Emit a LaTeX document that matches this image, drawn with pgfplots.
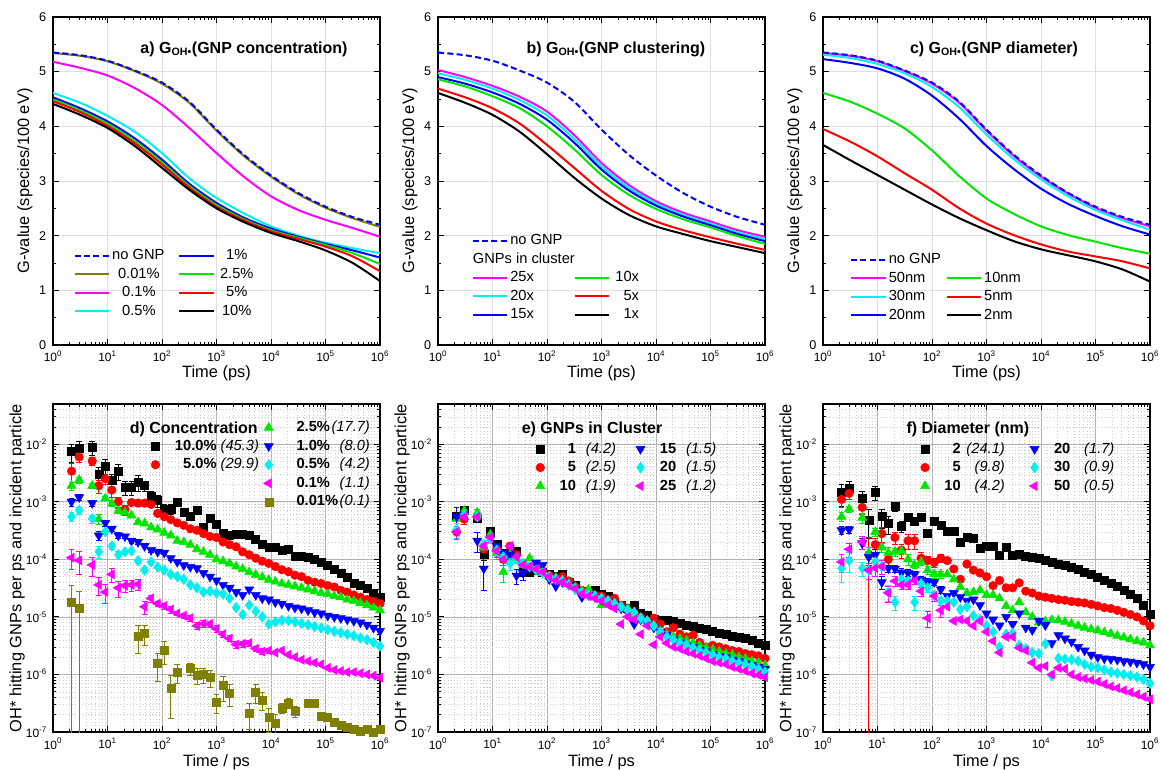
\documentclass[border=0pt]{standalone}
\usepackage{fontspec}
\setmainfont{Liberation Sans}
\usepackage{pgfplots}
\usepackage{pgfplotstable}
\pgfplotsset{compat=1.18}

\definecolor{cblue}{RGB}{0,0,255}
\definecolor{colive}{RGB}{128,128,0}
\definecolor{cmag}{RGB}{255,0,255}
\definecolor{ccyan}{RGB}{0,240,240}
\definecolor{cgreen}{RGB}{0,230,0}
\definecolor{cred}{RGB}{255,0,0}

% legend text helpers
\newcommand{\LL}[2]{\makebox[73pt][r]{\textbf{#1} \textit{#2}}}
\newcommand{\LR}[2]{\hspace*{16pt}\makebox[55pt]{\textbf{#1}\hfill\textit{#2}}}
\newcommand{\LE}[2]{\makebox[22pt][r]{\textbf{#1}}\makebox[30pt][r]{\textit{#2}}}
\newcommand{\LF}[2]{\makebox[22pt][r]{\textbf{#1}}\makebox[33pt][r]{\textit{#2}}}

\pgfplotsset{
  every axis/.append style={
    scale only axis, width=245.25pt, height=246pt,
    tick align=inside,
    axis line style={line width=0.8pt},
    tick style={black, line width=0.6pt},
    major tick length=4.5pt, minor tick length=2.5pt,
    tick label style={font=\fontsize{9}{10}\selectfont},
    xticklabel style={yshift=-1.2pt},
    label style={font=\fontsize{12.3}{14}\selectfont},
    legend cell align=left,
    legend columns=2,
    legend style={draw=none, fill=none, font=\fontsize{11}{13}\selectfont,
      nodes={inner sep=1.45pt, text height=8.5pt, text depth=2.5pt}},
  },
  log number format basis/.code 2 args={#1\textsuperscript{\pgfmathprintnumber[assume math mode=true]{#2}}},
  gnplw/.style={line width=1.5pt, smooth},
  gnpdsh/.style={line width=1.5pt, smooth, dash pattern=on 4.5pt off 2.5pt},
  gnpeb/.style={only marks,
    error bars/y dir=both, error bars/y explicit,
    error bars/error bar style={line width=0.5pt, solid},
    error bars/error mark options={rotate=90, mark size=2.2pt, line width=0.5pt}},
  sK/.style={mark=square*, mark size=3pt, color=black},
  sR/.style={mark=*, mark size=3.2pt, color=cred},
  sG/.style={mark=triangle*, mark size=3.9pt, color=cgreen},
  sB/.style={mark=triangle*, mark size=3.9pt, color=cblue, mark options={rotate=180}},
  sC/.style={mark=diamond*, mark size=3.9pt, color=ccyan},
  sM/.style={mark=triangle*, mark size=3.9pt, color=cmag, mark options={rotate=90}},
  sO/.style={mark=square*, mark size=3pt, color=colive},
}
\tikzset{gnpttl/.style={font=\bfseries\fontsize{12}{14}\selectfont, inner sep=0pt}}

\pgfplotstableread{
t n p01 p1 p5 c1 c25 c5 c10
1 5.35 5.34 5.18 4.61 4.53 4.49 4.46 4.41
3.16 5.30 5.29 5.07 4.43 4.33 4.29 4.26 4.21
10 5.20 5.19 4.93 4.19 4.09 4.05 4.01 3.97
31.6 5.02 5.01 4.70 3.90 3.78 3.73 3.69 3.64
100 4.80 4.78 4.39 3.51 3.39 3.34 3.30 3.24
316 4.45 4.43 3.97 3.05 2.95 2.91 2.88 2.84
1000 3.94 3.92 3.51 2.69 2.60 2.56 2.53 2.50
3160 3.48 3.46 3.08 2.41 2.33 2.30 2.28 2.25
1e4 3.10 3.08 2.72 2.17 2.13 2.10 2.08 2.05
3.16e4 2.78 2.76 2.47 2.00 1.98 1.96 1.94 1.90
1e5 2.53 2.51 2.29 1.87 1.85 1.83 1.80 1.73
3.16e5 2.34 2.32 2.14 1.77 1.73 1.68 1.62 1.50
1e6 2.20 2.16 1.98 1.68 1.60 1.48 1.35 1.17
}\ta

\pgfplotstableread{
t n x25 x20 x15 x10 x5 x1
1 5.35 5.03 4.97 4.90 4.86 4.69 4.61
3.16 5.30 4.90 4.85 4.78 4.73 4.53 4.43
10 5.20 4.74 4.69 4.62 4.55 4.33 4.21
31.6 5.02 4.54 4.48 4.41 4.33 4.05 3.90
100 4.80 4.27 4.20 4.12 4.00 3.66 3.49
316 4.45 3.84 3.77 3.70 3.58 3.24 3.06
1000 3.94 3.33 3.27 3.21 3.11 2.82 2.68
3160 3.48 2.93 2.88 2.83 2.75 2.49 2.38
1e4 3.10 2.63 2.59 2.55 2.49 2.26 2.17
3.16e4 2.78 2.42 2.38 2.35 2.30 2.10 2.03
1e5 2.53 2.26 2.22 2.19 2.15 1.97 1.90
3.16e5 2.34 2.10 2.06 2.03 1.99 1.85 1.79
1e6 2.20 1.98 1.94 1.90 1.85 1.74 1.68
}\tb

\pgfplotstableread{
t n d50 d30 d20 d10 d5 d2
1 5.35 5.34 5.31 5.23 4.61 3.95 3.66
3.16 5.30 5.29 5.25 5.16 4.45 3.72 3.38
10 5.20 5.19 5.14 5.06 4.23 3.45 3.11
31.6 5.02 5.01 4.97 4.87 3.96 3.14 2.84
100 4.80 4.78 4.72 4.56 3.56 2.84 2.57
316 4.45 4.43 4.35 4.14 3.09 2.50 2.32
1000 3.94 3.92 3.85 3.64 2.68 2.22 2.10
3160 3.48 3.46 3.40 3.22 2.40 2.01 1.90
1e4 3.10 3.08 3.03 2.86 2.17 1.84 1.75
3.16e4 2.78 2.77 2.72 2.58 2.01 1.71 1.64
1e5 2.53 2.51 2.47 2.36 1.89 1.62 1.53
3.16e5 2.34 2.32 2.28 2.17 1.77 1.53 1.38
1e6 2.20 2.17 2.11 2.02 1.67 1.40 1.16
}\tc

\pgfplotstableread{
t k ke r re g ge b be c ce m me o oe
2.19 7.4e-3 2.5e-3 3.4e-3 1.2e-3 1.9e-3 3e-4 1.0e-3 1.5e-4 5.5e-4 1e-4 1.07e-4 4e-5 1.8e-5 1.795e-5
3.02 8.4e-3 3e-3 6.0e-3 1.2e-3 2.4e-3 3e-4 1.2e-3 1.5e-4 7.1e-4 1e-4 9.6e-5 4e-5 1.4e-5 1.395e-5
5.25 8.8e-3 2.5e-3 5.1e-3 8e-4 1.9e-3 2e-4 9.5e-4 1e-4 5.1e-4 8e-5 8.0e-5 3e-5 nan 0
6.92 3.0e-3 1e-3 1.9e-3 5e-4 5.0e-4 1e-4 2.6e-4 5e-5 1.35e-4 3e-5 3.6e-5 1.2e-5 nan 0
9.12 4.2e-3 1.2e-3 2.5e-3 5e-4 1.15e-3 1e-4 4.3e-4 5e-5 3.0e-4 3e-5 2.7e-5 1e-5 nan 0
12.0 2.4e-3 6e-4 1.6e-3 4e-4 9.3e-4 1e-4 3.4e-4 3e-5 1.7e-4 2e-5 5.5e-5 1.5e-5 nan 0
15.8 3.4e-3 1e-3 1.0e-3 2e-4 7.0e-4 8e-5 2.6e-4 3e-5 1.2e-4 2e-5 3.2e-5 1e-5 nan 0
20.9 1.8e-3 5e-4 7.3e-4 1.5e-4 6.5e-4 5e-5 2.5e-4 2e-5 1.35e-4 1e-5 3.5e-5 8e-6 nan 0
27.5 1.8e-3 5e-4 9.7e-4 1e-4 5.8e-4 5e-5 2.1e-4 2e-5 1.4e-4 1e-5 3.6e-5 8e-6 nan 0
36.3 2.2e-3 7e-4 9.5e-4 1e-4 4.4e-4 4e-5 2.0e-4 2e-5 9.5e-5 1e-5 3.7e-5 8e-6 4.7e-6 2.4e-6
47.9 1.9e-3 4e-4 9.5e-4 1e-4 4.2e-4 3e-5 1.7e-4 1e-5 6.5e-5 8e-6 1.5e-5 4e-6 5.2e-6 2e-6
63.1 1.25e-3 3e-4 9.0e-4 1e-4 3.6e-4 3e-5 1.45e-4 1e-5 9.0e-5 8e-6 2.1e-5 3e-6 nan 0
83.2 1.05e-3 2.5e-4 6.3e-4 5e-5 3.3e-4 2e-5 1.35e-4 1e-5 7.3e-5 5e-6 1.7e-5 2e-6 1.55e-6 8e-7
110 7.5e-4 1.5e-4 5.5e-4 5e-5 2.9e-4 2e-5 1.3e-4 1e-5 6.5e-5 5e-6 1.55e-5 2e-6 2.6e-6 1.1e-6
145 7.5e-4 1.5e-4 4.9e-4 4e-5 2.6e-4 2e-5 1.05e-4 8e-6 5.5e-5 4e-6 1.35e-5 2e-6 5.7e-7 4e-7
191 1.0e-3 1e-4 4.3e-4 0 2.1e-4 0 9.0e-5 0 5.0e-5 0 1.15e-5 1e-6 1.1e-6 4e-7
251 6.5e-4 8e-5 3.9e-4 0 2.0e-4 0 7.9e-5 0 4.5e-5 0 1.05e-5 1e-6 nan 0
331 5.5e-4 6e-5 3.4e-4 0 1.8e-4 0 7.4e-5 0 3.6e-5 0 9.5e-6 1e-6 1.26e-6 3e-7
437 7.0e-4 6e-5 3.2e-4 0 1.5e-4 0 7.0e-5 0 3.2e-5 0 7.0e-6 1e-6 9.7e-7 3e-7
575 3.6e-4 4e-5 2.8e-4 0 1.35e-4 0 5.8e-5 0 2.7e-5 0 7.6e-6 1e-6 1.0e-6 3e-7
759 5.2e-4 4e-5 2.5e-4 0 1.2e-4 0 5.0e-5 0 2.8e-5 0 7.5e-6 8e-7 9.0e-7 3e-7
1000 4.1e-4 3e-5 2.4e-4 0 1.0e-4 0 4.3e-5 0 2.6e-5 0 6.2e-6 8e-7 3.3e-7 1.2e-7
1318 2.8e-4 0 2.0e-4 0 9.3e-5 0 3.6e-5 0 2.5e-5 0 5.0e-6 6e-7 6.4e-7 3e-7
1738 2.6e-4 0 1.8e-4 0 8.5e-5 0 3.2e-5 0 2.1e-5 0 4.2e-6 5e-7 4.8e-7 2e-7
2291 2.75e-4 0 1.65e-4 0 7.5e-5 0 2.7e-5 0 1.45e-5 0 3.3e-6 4e-7 nan 0
3020 2.7e-4 0 1.35e-4 0 6.8e-5 0 2.4e-5 0 1.1e-5 0 3.4e-6 4e-7 nan 0
3981 2.6e-4 0 1.2e-4 0 6.0e-5 0 3.0e-5 0 1.6e-5 0 3.5e-6 4e-7 2.1e-7 1e-7
5248 2.2e-4 0 1.05e-4 0 5.4e-5 0 2.4e-5 0 1.25e-5 0 2.8e-6 3e-7 5.0e-7 1.8e-7
6918 1.8e-4 0 9.3e-5 0 4.9e-5 0 2.1e-5 0 1.0e-5 0 2.5e-6 3e-7 3.6e-7 1.2e-7
9120 1.65e-4 0 8.5e-5 0 4.4e-5 0 2.0e-5 0 7.5e-6 0 2.6e-6 3e-7 1.8e-7 8e-8
1.2e4 1.6e-4 0 7.5e-5 0 4.1e-5 0 1.8e-5 0 8.2e-6 0 2.4e-6 0 1.4e-7 6e-8
1.58e4 1.45e-4 0 6.6e-5 0 3.8e-5 0 1.7e-5 0 8.7e-6 0 2.6e-6 0 2.6e-7 5e-8
2.09e4 1.5e-4 0 6.1e-5 0 3.6e-5 0 1.55e-5 0 8.6e-6 0 2.2e-6 0 3.2e-7 6e-8
2.75e4 1.15e-4 0 5.3e-5 0 3.4e-5 0 1.45e-5 0 8.2e-6 0 2.0e-6 0 2.3e-7 5e-8
3.63e4 1.12e-4 0 5.0e-5 0 3.2e-5 0 1.4e-5 0 7.7e-6 0 1.8e-6 0 nan 0
4.79e4 1.1e-4 0 4.3e-5 0 3.0e-5 0 1.3e-5 0 7.3e-6 0 1.7e-6 0 3.2e-7 0
6.31e4 1.0e-4 0 4.0e-5 0 2.8e-5 0 1.2e-5 0 6.8e-6 0 1.6e-6 0 3.2e-7 0
8.32e4 9.0e-5 0 3.8e-5 0 2.6e-5 0 1.15e-5 0 6.4e-6 0 1.5e-6 0 1.85e-7 0
1.1e5 7.8e-5 0 3.5e-5 0 2.5e-5 0 1.05e-5 0 6.0e-6 0 1.3e-6 0 1.8e-7 0
1.45e5 6.8e-5 0 3.3e-5 0 2.3e-5 0 1.0e-5 0 5.6e-6 0 1.2e-6 0 1.5e-7 0
1.91e5 5.8e-5 0 2.9e-5 0 2.2e-5 0 9.5e-6 0 5.3e-6 0 1.15e-6 0 1.3e-7 0
2.51e5 4.8e-5 0 2.7e-5 0 2.0e-5 0 9.0e-6 0 5.0e-6 0 1.1e-6 0 1.2e-7 0
3.31e5 3.9e-5 0 2.4e-5 0 1.9e-5 0 8.5e-6 0 4.7e-6 0 1.1e-6 0 1.1e-7 0
4.37e5 3.5e-5 0 2.2e-5 0 1.75e-5 0 8.0e-6 0 4.3e-6 0 1.05e-6 0 1.05e-7 0
5.75e5 3.1e-5 0 2.0e-5 0 1.6e-5 0 7.3e-6 0 4.0e-6 0 1.0e-6 0 1.1e-7 0
7.59e5 2.6e-5 0 1.85e-5 0 1.45e-5 0 6.5e-6 0 3.6e-6 0 9.5e-7 0 1.0e-7 0
1e6 2.2e-5 0 1.7e-5 0 1.3e-5 0 5.7e-6 0 3.1e-6 0 8.8e-7 0 1.1e-7 0
}\td

\pgfplotstableread{
t k ke r re g ge b be c ce m me
2.19 5.5e-4 2.5e-4 3.0e-4 8e-5 5.0e-4 1.5e-4 5.5e-4 2.5e-4 3.3e-4 1e-4 3.0e-4 8e-5
3.02 7.0e-4 1e-4 5.0e-4 1e-4 7.0e-4 1e-4 6.0e-4 1.5e-4 6.0e-4 1e-4 5.5e-4 1e-4
5.25 5.2e-4 8e-5 5.5e-4 8e-5 6.5e-4 1e-4 2.1e-4 8e-5 5.5e-4 8e-5 5.5e-4 8e-5
6.92 1.25e-4 3e-5 1.5e-4 3e-5 1.6e-4 3e-5 6.9e-5 4e-5 1.8e-4 3e-5 1.7e-4 3e-5
9.12 3.1e-4 4e-5 2.5e-4 4e-5 2.7e-4 4e-5 2.3e-4 4e-5 2.3e-4 4e-5 2.4e-4 4e-5
12.0 1.8e-4 3e-5 1.5e-4 3e-5 1.3e-4 3e-5 1.7e-4 3e-5 1.45e-4 3e-5 1.4e-4 3e-5
15.8 1.3e-4 2e-5 1.0e-4 2e-5 6.0e-5 2e-5 1.3e-4 2e-5 1.1e-4 2e-5 1.0e-4 2e-5
20.9 1.3e-4 2e-5 1.7e-4 2e-5 1.2e-4 2e-5 1.2e-4 2e-5 8.5e-5 2e-5 1.7e-4 2e-5
27.5 1.4e-4 1.5e-5 1.2e-4 1.5e-5 1.05e-4 1.5e-5 5.2e-5 1.5e-5 1.0e-4 1.5e-5 1.1e-4 1.5e-5
36.3 6.0e-5 1e-5 8.5e-5 1e-5 8.0e-5 1e-5 5.8e-5 1.5e-5 8.5e-5 1e-5 8.0e-5 1e-5
47.9 6.0e-5 1e-5 7.5e-5 1e-5 1.05e-4 1e-5 7.0e-5 1e-5 7.5e-5 1e-5 7.5e-5 1e-5
63.1 6.5e-5 0 7.0e-5 0 7.5e-5 0 8.7e-5 0 6.5e-5 0 6.8e-5 0
83.2 6.0e-5 0 6.2e-5 0 5.8e-5 0 8.0e-5 0 5.8e-5 0 6.0e-5 0
110 5.5e-5 0 5.2e-5 0 5.0e-5 0 4.5e-5 0 5.0e-5 0 5.0e-5 0
145 5.0e-5 0 4.6e-5 0 4.8e-5 0 3.4e-5 0 4.5e-5 0 4.3e-5 0
191 5.6e-5 0 5.0e-5 0 4.3e-5 0 4.0e-5 0 4.2e-5 0 4.0e-5 0
251 4.0e-5 0 4.2e-5 0 3.8e-5 0 3.6e-5 0 3.6e-5 0 3.5e-5 0
331 3.5e-5 0 3.3e-5 0 3.3e-5 0 3.0e-5 0 3.0e-5 0 3.1e-5 0
437 2.8e-5 0 2.9e-5 0 2.8e-5 0 2.2e-5 0 2.6e-5 0 2.5e-5 0
575 2.7e-5 0 2.6e-5 0 3.0e-5 0 2.4e-5 0 2.4e-5 0 2.3e-5 0
759 2.9e-5 0 2.4e-5 0 2.3e-5 0 2.2e-5 0 2.3e-5 0 2.1e-5 0
1000 2.5e-5 0 2.3e-5 0 1.6e-5 0 2.0e-5 0 2.1e-5 0 1.9e-5 0
1318 2.3e-5 0 2.0e-5 0 1.8e-5 0 1.8e-5 0 1.9e-5 0 1.6e-5 0
1738 1.9e-5 0 2.1e-5 0 1.6e-5 0 1.5e-5 0 1.7e-5 0 1.4e-5 0
2291 1.6e-5 0 1.6e-5 0 1.5e-5 0 1.4e-5 0 1.5e-5 0 7.5e-6 0
3020 1.4e-5 0 1.3e-5 0 1.4e-5 0 1.2e-5 0 1.3e-5 0 1.0e-5 0
3981 1.6e-5 0 1.1e-5 0 1.1e-5 0 7.5e-6 0 1.2e-5 0 9.0e-6 0
5248 1.15e-5 0 1.0e-5 0 9.5e-6 0 9.0e-6 0 9.5e-6 0 5.0e-6 0
6918 1.05e-5 0 8.5e-6 0 8.5e-6 0 8.0e-6 0 8.5e-6 0 7.0e-6 0
9120 9.2e-6 0 9.5e-6 0 7.0e-6 0 6.5e-6 0 7.0e-6 0 3.3e-6 0
1.2e4 8.8e-6 0 7.5e-6 0 5.5e-6 0 5.5e-6 0 5.5e-6 0 4.5e-6 0
1.58e4 8.8e-6 0 5.5e-6 0 5.0e-6 0 4.8e-6 0 4.5e-6 0 3.5e-6 0
2.09e4 8.5e-6 0 6.5e-6 0 4.5e-6 0 4.0e-6 0 4.0e-6 0 3.0e-6 0
2.75e4 7.8e-6 0 5.0e-6 0 4.2e-6 0 3.6e-6 0 3.5e-6 0 2.8e-6 0
3.63e4 7.2e-6 0 4.5e-6 0 3.9e-6 0 3.2e-6 0 3.2e-6 0 2.5e-6 0
4.79e4 6.8e-6 0 4.8e-6 0 3.5e-6 0 3.0e-6 0 2.9e-6 0 2.3e-6 0
6.31e4 6.3e-6 0 3.6e-6 0 3.2e-6 0 2.7e-6 0 2.6e-6 0 2.1e-6 0
8.32e4 6.0e-6 0 3.0e-6 0 2.9e-6 0 2.5e-6 0 2.4e-6 0 1.9e-6 0
1.1e5 5.6e-6 0 3.2e-6 0 2.7e-6 0 2.3e-6 0 2.2e-6 0 1.7e-6 0
1.45e5 5.3e-6 0 3.0e-6 0 2.5e-6 0 2.1e-6 0 2.0e-6 0 1.6e-6 0
1.91e5 5.0e-6 0 2.8e-6 0 2.3e-6 0 2.0e-6 0 1.9e-6 0 1.5e-6 0
2.51e5 4.6e-6 0 2.6e-6 0 2.2e-6 0 1.8e-6 0 1.7e-6 0 1.35e-6 0
3.31e5 4.4e-6 0 2.5e-6 0 2.0e-6 0 1.7e-6 0 1.6e-6 0 1.25e-6 0
4.37e5 4.2e-6 0 2.3e-6 0 1.9e-6 0 1.55e-6 0 1.5e-6 0 1.15e-6 0
5.75e5 3.9e-6 0 2.2e-6 0 1.7e-6 0 1.45e-6 0 1.4e-6 0 1.05e-6 0
7.59e5 3.5e-6 0 2.1e-6 0 1.6e-6 0 1.35e-6 0 1.25e-6 0 9.8e-7 0
1e6 3.2e-6 0 1.9e-6 0 1.45e-6 0 1.25e-6 0 1.1e-6 0 9.0e-7 0
}\te

\pgfplotstableread{
t k ke r re g ge b be c ce m me
2.19 1.45e-3 6e-4 1.1e-3 3e-4 5.5e-4 1e-4 3.2e-4 5e-5 7.0e-5 3e-5 9.0e-5 3e-5
3.02 1.7e-3 6e-4 1.4e-3 3e-4 7.5e-4 1e-4 3.3e-4 5e-5 9.5e-5 3.5e-5 1.5e-4 4e-5
5.25 1.15e-3 4e-4 8.0e-4 2e-4 5.3e-4 1e-4 1.9e-4 4e-5 7.0e-5 2e-5 2.0e-4 5e-5
6.92 4.8e-4 2.5e-4 1.2e-4 1.1999e-4 1.3e-4 3e-5 1.1e-4 3e-5 6.5e-5 2e-5 6.5e-5 2e-5
9.12 1.45e-3 4e-4 1.8e-4 5e-5 3.0e-4 5e-5 1.2e-4 3e-5 9.0e-5 2e-5 7.0e-5 2e-5
12.0 5.5e-4 2e-4 2.8e-4 8e-5 1.6e-4 3e-5 4.0e-5 1e-5 7.5e-5 2e-5 7.5e-5 2e-5
15.8 4.2e-4 1.5e-4 1.0e-4 3e-5 1.3e-4 3e-5 7.0e-5 1e-5 2.7e-5 8e-6 2.6e-5 8e-6
20.9 8.3e-4 1.5e-4 2.4e-4 6e-5 1.35e-4 2e-5 6.9e-5 1e-5 1.8e-5 5e-6 4.2e-5 8e-6
27.5 3.7e-4 8e-5 1.45e-4 4e-5 1.4e-4 2e-5 5.9e-5 1e-5 4.5e-5 8e-6 3.6e-5 6e-6
36.3 5.3e-4 8e-5 2.1e-4 6e-5 1.0e-4 2e-5 5.8e-5 8e-6 4.2e-5 6e-6 3.6e-5 6e-6
47.9 4.5e-4 6e-5 2.1e-4 6e-5 8.0e-5 1e-5 5.5e-5 8e-6 1.8e-5 5e-6 4.3e-5 6e-6
63.1 5.4e-4 6e-5 1.05e-4 2.5e-5 9.0e-5 1e-5 4.4e-5 6e-6 3.8e-5 6e-6 2.8e-5 5e-6
83.2 2.8e-4 4e-5 9.5e-5 2e-5 6.5e-5 1e-5 4.0e-5 6e-6 3.2e-5 5e-6 9.5e-6 3e-6
110 4.6e-4 4e-5 8.8e-5 1.5e-5 5.5e-5 8e-6 4.0e-5 5e-6 2.4e-5 4e-6 2.3e-5 4e-6
145 3.9e-4 3e-5 1.05e-4 1.5e-5 5.5e-5 8e-6 3.0e-5 4e-6 1.9e-5 3e-6 1.3e-5 3e-6
191 3.1e-4 0 9.5e-5 1e-5 5.5e-5 0 2.3e-5 0 1.9e-5 0 1.5e-5 0
251 3.1e-4 0 6.8e-5 0 4.5e-5 0 2.6e-5 0 1.8e-5 0 8.5e-6 0
331 2.0e-4 0 4.5e-5 0 3.3e-5 0 2.2e-5 0 1.35e-5 0 9.0e-6 0
437 2.4e-4 0 8.3e-5 0 2.6e-5 0 1.9e-5 0 1.5e-5 0 8.5e-6 0
575 2.3e-4 0 6.5e-5 0 2.7e-5 0 2.0e-5 0 1.05e-5 0 7.0e-6 0
759 1.55e-4 0 5.8e-5 0 2.9e-5 0 1.6e-5 0 9.0e-6 0 8.5e-6 0
1000 1.7e-4 0 5.0e-5 0 2.4e-5 0 1.15e-5 0 7.0e-6 0 5.5e-6 0
1318 1.7e-4 0 3.5e-5 0 2.4e-5 0 9.0e-6 0 5.5e-6 0 3.8e-6 0
1738 1.2e-4 0 4.3e-5 0 2.1e-5 0 7.1e-6 0 3.0e-6 0 2.4e-6 0
2291 1.65e-4 0 3.2e-5 0 1.55e-5 0 1.0e-5 0 5.0e-6 0 4.5e-6 0
3020 1.2e-4 0 3.2e-5 0 1.3e-5 0 7.5e-6 0 5.2e-6 0 4.5e-6 0
3981 1.25e-4 0 3.9e-5 0 1.8e-5 0 1.15e-5 0 3.2e-6 0 2.9e-6 0
5248 1.15e-4 0 2.8e-5 0 1.2e-5 0 6.5e-6 0 2.8e-6 0 2.6e-6 0
6918 1.1e-4 0 2.6e-5 0 1.0e-5 0 5.9e-6 0 2.4e-6 0 1.6e-6 0
9120 1.05e-4 0 2.3e-5 0 8.0e-6 0 8.5e-6 0 2.3e-6 0 1.3e-6 0
1.2e4 9.6e-5 0 2.2e-5 0 8.4e-6 0 7.2e-6 0 3.4e-6 0 1.4e-6 0
1.58e4 9.0e-5 0 2.1e-5 0 8.8e-6 0 3.5e-6 0 9.5e-7 0 1.0e-6 0
2.09e4 8.3e-5 0 2.0e-5 0 8.7e-6 0 4.8e-6 0 1.9e-6 0 1.3e-6 0
2.75e4 7.8e-5 0 1.95e-5 0 8.2e-6 0 4.2e-6 0 1.85e-6 0 1.25e-6 0
3.63e4 7.2e-5 0 1.85e-5 0 7.6e-6 0 3.7e-6 0 1.8e-6 0 1.0e-6 0
4.79e4 6.6e-5 0 1.8e-5 0 7.0e-6 0 3.0e-6 0 1.7e-6 0 9.0e-7 0
6.31e4 6.0e-5 0 1.75e-5 0 6.5e-6 0 2.6e-6 0 1.5e-6 0 8.5e-7 0
8.32e4 5.6e-5 0 1.65e-5 0 6.1e-6 0 2.2e-6 0 1.35e-6 0 8.0e-7 0
1.1e5 4.9e-5 0 1.55e-5 0 5.8e-6 0 2.0e-6 0 1.3e-6 0 7.5e-7 0
1.45e5 4.3e-5 0 1.45e-5 0 5.4e-6 0 1.9e-6 0 1.2e-6 0 6.8e-7 0
1.91e5 3.9e-5 0 1.4e-5 0 5.1e-6 0 1.85e-6 0 1.1e-6 0 6.2e-7 0
2.51e5 3.4e-5 0 1.3e-5 0 4.7e-6 0 1.8e-6 0 1.05e-6 0 5.8e-7 0
3.31e5 2.9e-5 0 1.2e-5 0 4.4e-6 0 1.7e-6 0 1.0e-6 0 5.3e-7 0
4.37e5 2.5e-5 0 1.1e-5 0 4.1e-6 0 1.66e-6 0 9.5e-7 0 4.9e-7 0
5.75e5 2.1e-5 0 1.0e-5 0 3.8e-6 0 1.6e-6 0 9.0e-7 0 4.5e-7 0
7.59e5 1.6e-5 0 8.5e-6 0 3.6e-6 0 1.5e-6 0 8.2e-7 0 4.1e-7 0
1e6 1.1e-5 0 7.0e-6 0 3.2e-6 0 1.35e-6 0 7.0e-7 0 3.7e-7 0
}\tf

\begin{document}
\begin{tikzpicture}
\useasboundingbox (0,0) rectangle (870.75pt,-577.5pt);

% ---------- a) concentration ----------
\begin{axis}[at={(39.75pt,-12.75pt)}, anchor=north west,
  xmode=log, xmin=1, xmax=1e6,
  ymin=0, ymax=6, ytick={0,1,2,3,4,5,6}, minor y tick num=1,
  yticklabel style={/pgf/number format/assume math mode=true, font=\fontsize{9.5}{11}\selectfont, xshift=-1.5pt},
  grid=major, major grid style={gray!25, line width=0.6pt},
  xlabel={Time (ps)}, ylabel={G-value (species/100 eV)},
  xlabel style={at={(axis description cs:0.5,-0.085)}, anchor=center},
  ylabel style={at={(axis description cs:-0.086,0.5)}, anchor=center},
  legend image code/.code={\draw[#1] (0pt,0pt) -- (26pt,0pt);},
  legend style={at={(0.05,0.31)}, anchor=north west,
    /tikz/every even column/.append style={column sep=8pt}}]
\addplot[colive, gnplw, forget plot] table[x=t,y=p01]{\ta};
\addplot[cblue, gnpdsh, forget plot] table[x=t,y=n]{\ta};
\addplot[cmag, gnplw, forget plot] table[x=t,y=p1]{\ta};
\addplot[ccyan, gnplw, forget plot] table[x=t,y=p5]{\ta};
\addplot[cblue, gnplw, forget plot] table[x=t,y=c1]{\ta};
\addplot[cgreen, gnplw, forget plot] table[x=t,y=c25]{\ta};
\addplot[cred, gnplw, forget plot] table[x=t,y=c5]{\ta};
\addplot[black, gnplw, forget plot] table[x=t,y=c10]{\ta};
\addlegendimage{cblue, line width=1.5pt, dash pattern=on 4.5pt off 2.5pt}\addlegendentry{no GNP}
\addlegendimage{cblue, line width=1.5pt}\addlegendentry{\makebox[30pt]{1\%}}
\addlegendimage{colive, line width=1.5pt}\addlegendentry{\makebox[40pt]{0.01\%}}
\addlegendimage{cgreen, line width=1.5pt}\addlegendentry{\makebox[30pt]{2.5\%}}
\addlegendimage{cmag, line width=1.5pt}\addlegendentry{\makebox[40pt]{0.1\%}}
\addlegendimage{cred, line width=1.5pt}\addlegendentry{\makebox[30pt]{5\%}}
\addlegendimage{ccyan, line width=1.5pt}\addlegendentry{\makebox[40pt]{0.5\%}}
\addlegendimage{black, line width=1.5pt}\addlegendentry{\makebox[30pt]{10\%}}
\node[gnpttl] at (rel axis cs:0.584,0.902) {a) G\textsubscript{OH\textbullet}(GNP concentration)};
\end{axis}

% ---------- b) clustering ----------
\begin{axis}[at={(328.5pt,-12.75pt)}, anchor=north west,
  xmode=log, xmin=1, xmax=1e6,
  ymin=0, ymax=6, ytick={0,1,2,3,4,5,6}, minor y tick num=1,
  yticklabel style={/pgf/number format/assume math mode=true, font=\fontsize{9.5}{11}\selectfont, xshift=-1.5pt},
  grid=major, major grid style={gray!25, line width=0.6pt},
  xlabel={Time (ps)}, ylabel={G-value (species/100 eV)},
  xlabel style={at={(axis description cs:0.5,-0.085)}, anchor=center},
  ylabel style={at={(axis description cs:-0.086,0.5)}, anchor=center},
  legend image code/.code={\draw[#1] (0pt,0pt) -- (26pt,0pt);},
  legend style={at={(0.09,0.355)}, anchor=north west,
    /tikz/every even column/.append style={column sep=7pt}}]
\addplot[cblue, gnpdsh, forget plot] table[x=t,y=n]{\tb};
\addplot[cmag, gnplw, forget plot] table[x=t,y=x25]{\tb};
\addplot[ccyan, gnplw, forget plot] table[x=t,y=x20]{\tb};
\addplot[cblue, gnplw, forget plot] table[x=t,y=x15]{\tb};
\addplot[cgreen, gnplw, forget plot] table[x=t,y=x10]{\tb};
\addplot[cred, gnplw, forget plot] table[x=t,y=x5]{\tb};
\addplot[black, gnplw, forget plot] table[x=t,y=x1]{\tb};
\addlegendimage{cblue, line width=1.5pt, dash pattern=on 4.5pt off 2.5pt}\addlegendentry{no GNP}
\addlegendimage{empty legend}\addlegendentry{}
\addlegendimage{empty legend}\addlegendentry{\rlap{\hspace*{-28pt}GNPs in cluster}}
\addlegendimage{empty legend}\addlegendentry{}
\addlegendimage{cmag, line width=1.5pt}\addlegendentry{25x}
\addlegendimage{cgreen, line width=1.5pt}\addlegendentry{\makebox[20pt][r]{10x}}
\addlegendimage{ccyan, line width=1.5pt}\addlegendentry{20x}
\addlegendimage{cred, line width=1.5pt}\addlegendentry{\makebox[20pt][r]{5x}}
\addlegendimage{cblue, line width=1.5pt}\addlegendentry{15x}
\addlegendimage{black, line width=1.5pt}\addlegendentry{\makebox[20pt][r]{1x}}
\node[gnpttl] at (rel axis cs:0.544,0.902) {b) G\textsubscript{OH\textbullet}(GNP clustering)};
\end{axis}

% ---------- c) diameter ----------
\begin{axis}[at={(617.25pt,-12.75pt)}, anchor=north west,
  xmode=log, xmin=1, xmax=1e6,
  ymin=0, ymax=6, ytick={0,1,2,3,4,5,6}, minor y tick num=1,
  yticklabel style={/pgf/number format/assume math mode=true, font=\fontsize{9.5}{11}\selectfont, xshift=-1.5pt},
  grid=major, major grid style={gray!25, line width=0.6pt},
  xlabel={Time (ps)}, ylabel={G-value (species/100 eV)},
  xlabel style={at={(axis description cs:0.5,-0.085)}, anchor=center},
  ylabel style={at={(axis description cs:-0.086,0.5)}, anchor=center},
  legend image code/.code={\draw[#1] (0pt,0pt) -- (26pt,0pt);},
  legend style={at={(0.07,0.297)}, anchor=north west,
    /tikz/every even column/.append style={column sep=2pt}}]
\addplot[cmag, gnplw, forget plot] table[x=t,y=d50]{\tc};
\addplot[cblue, gnpdsh, forget plot] table[x=t,y=n]{\tc};
\addplot[ccyan, gnplw, forget plot] table[x=t,y=d30]{\tc};
\addplot[cblue, gnplw, forget plot] table[x=t,y=d20]{\tc};
\addplot[cgreen, gnplw, forget plot] table[x=t,y=d10]{\tc};
\addplot[cred, gnplw, forget plot] table[x=t,y=d5]{\tc};
\addplot[black, gnplw, forget plot] table[x=t,y=d2]{\tc};
\addlegendimage{cblue, line width=1.5pt, dash pattern=on 4.5pt off 2.5pt}\addlegendentry{no GNP}
\addlegendimage{empty legend}\addlegendentry{}
\addlegendimage{cmag, line width=1.5pt}\addlegendentry{50nm}
\addlegendimage{cgreen, line width=1.5pt}\addlegendentry{10nm}
\addlegendimage{ccyan, line width=1.5pt}\addlegendentry{30nm}
\addlegendimage{cred, line width=1.5pt}\addlegendentry{5nm}
\addlegendimage{cblue, line width=1.5pt}\addlegendentry{20nm}
\addlegendimage{black, line width=1.5pt}\addlegendentry{2nm}
\node[gnpttl] at (rel axis cs:0.523,0.902) {c) G\textsubscript{OH\textbullet}(GNP diameter)};
\end{axis}

% ---------- d) concentration, hits ----------
\begin{axis}[at={(39.75pt,-303pt)}, anchor=north west,
  xmode=log, xmin=1, xmax=1e6, ymode=log, ymin=1e-7, ymax=5e-2,
  yticklabel style={xshift=-1pt},
  grid=both, major grid style={gray!60, line width=0.5pt},
  minor grid style={gray!40, dotted, line width=0.4pt},
  xlabel={Time / ps}, ylabel={OH* hitting GNPs per ps and incident particle},
  xlabel style={at={(axis description cs:0.5,-0.091)}, anchor=center},
  ylabel style={at={(axis description cs:-0.11,0.5)}, anchor=center},
  legend style={at={(0.988,0.965)}, anchor=north east,
    /tikz/every even column/.append style={column sep=2pt}}]
\addplot[sK, gnpeb, forget plot] table[x=t,y=k,y error=ke]{\td};
\addplot[sR, gnpeb, forget plot] table[x=t,y=r,y error=re]{\td};
\addplot[sG, gnpeb, forget plot] table[x=t,y=g,y error=ge]{\td};
\addplot[sB, gnpeb, forget plot] table[x=t,y=b,y error=be]{\td};
\addplot[sC, gnpeb, forget plot] table[x=t,y=c,y error=ce]{\td};
\addplot[sM, gnpeb, forget plot] table[x=t,y=m,y error=me]{\td};
\addplot[sO, gnpeb, forget plot] table[x=t,y=o,y error=oe]{\td};
\addlegendimage{empty legend}\addlegendentry{}
\addlegendimage{only marks, sG}\addlegendentry{\LR{2.5\%}{(17.7)}}
\addlegendimage{only marks, sK}\addlegendentry{\LL{10.0\%}{(45.3)}}
\addlegendimage{only marks, sB}\addlegendentry{\LR{1.0\%}{(8.0)}}
\addlegendimage{only marks, sR}\addlegendentry{\LL{5.0\%}{(29.9)}}
\addlegendimage{only marks, sC}\addlegendentry{\LR{0.5\%}{(4.2)}}
\addlegendimage{empty legend}\addlegendentry{}
\addlegendimage{only marks, sM}\addlegendentry{\LR{0.1\%}{(1.1)}}
\addlegendimage{empty legend}\addlegendentry{}
\addlegendimage{only marks, sO}\addlegendentry{\LR{0.01\%}{(0.1)}}
\node[gnpttl, anchor=east] at (rel axis cs:0.627,0.924) {d) Concentration};
\end{axis}

% ---------- e) cluster, hits ----------
\begin{axis}[at={(328.5pt,-303pt)}, anchor=north west,
  xmode=log, xmin=1, xmax=1e6, ymode=log, ymin=1e-7, ymax=5e-2,
  yticklabel style={xshift=-1pt},
  grid=both, major grid style={gray!60, line width=0.5pt},
  minor grid style={gray!40, dotted, line width=0.4pt},
  xlabel={Time / ps}, ylabel={OH* hitting GNPs per ps and incident particle},
  xlabel style={at={(axis description cs:0.5,-0.091)}, anchor=center},
  ylabel style={at={(axis description cs:-0.11,0.5)}, anchor=center},
  legend style={at={(0.87,0.9)}, anchor=north east,
    /tikz/every even column/.append style={column sep=13pt}}]
\addplot[sK, gnpeb, forget plot] table[x=t,y=k,y error=ke]{\te};
\addplot[sR, gnpeb, forget plot] table[x=t,y=r,y error=re]{\te};
\addplot[sG, gnpeb, forget plot] table[x=t,y=g,y error=ge]{\te};
\addplot[sB, gnpeb, forget plot] table[x=t,y=b,y error=be]{\te};
\addplot[sC, gnpeb, forget plot] table[x=t,y=c,y error=ce]{\te};
\addplot[sM, gnpeb, forget plot] table[x=t,y=m,y error=me]{\te};
\addlegendimage{only marks, sK}\addlegendentry{\LE{1}{(4.2)}}
\addlegendimage{only marks, sB}\addlegendentry{\LE{15}{(1.5)}}
\addlegendimage{only marks, sR}\addlegendentry{\LE{5}{(2.5)}}
\addlegendimage{only marks, sC}\addlegendentry{\LE{20}{(1.5)}}
\addlegendimage{only marks, sG}\addlegendentry{\LE{10}{(1.9)}}
\addlegendimage{only marks, sM}\addlegendentry{\LE{25}{(1.2)}}
\node[gnpttl] at (rel axis cs:0.471,0.924) {e) GNPs in Cluster};
\end{axis}

% ---------- f) diameter, hits ----------
\begin{axis}[at={(617.25pt,-303pt)}, anchor=north west,
  xmode=log, xmin=1, xmax=1e6, ymode=log, ymin=1e-7, ymax=5e-2,
  yticklabel style={xshift=-1pt},
  grid=both, major grid style={gray!60, line width=0.5pt},
  minor grid style={gray!40, dotted, line width=0.4pt},
  xlabel={Time / ps}, ylabel={OH* hitting GNPs per ps and incident particle},
  xlabel style={at={(axis description cs:0.5,-0.091)}, anchor=center},
  ylabel style={at={(axis description cs:-0.11,0.5)}, anchor=center},
  legend style={at={(0.91,0.9)}, anchor=north east,
    /tikz/every even column/.append style={column sep=17pt}}]
\addplot[sK, gnpeb, forget plot] table[x=t,y=k,y error=ke]{\tf};
\addplot[sR, gnpeb, forget plot] table[x=t,y=r,y error=re]{\tf};
\addplot[sG, gnpeb, forget plot] table[x=t,y=g,y error=ge]{\tf};
\addplot[sB, gnpeb, forget plot] table[x=t,y=b,y error=be]{\tf};
\addplot[sC, gnpeb, forget plot] table[x=t,y=c,y error=ce]{\tf};
\addplot[sM, gnpeb, forget plot] table[x=t,y=m,y error=me]{\tf};
\addlegendimage{only marks, sK}\addlegendentry{\LF{2}{(24.1)}}
\addlegendimage{only marks, sB}\addlegendentry{\LF{20}{(1.7)}}
\addlegendimage{only marks, sR}\addlegendentry{\LF{5}{(9.8)}}
\addlegendimage{only marks, sC}\addlegendentry{\LF{30}{(0.9)}}
\addlegendimage{only marks, sG}\addlegendentry{\LF{10}{(4.2)}}
\addlegendimage{only marks, sM}\addlegendentry{\LF{50}{(0.5)}}
\node[gnpttl] at (rel axis cs:0.443,0.924) {f) Diameter (nm)};
\end{axis}
\end{tikzpicture}
\end{document}
